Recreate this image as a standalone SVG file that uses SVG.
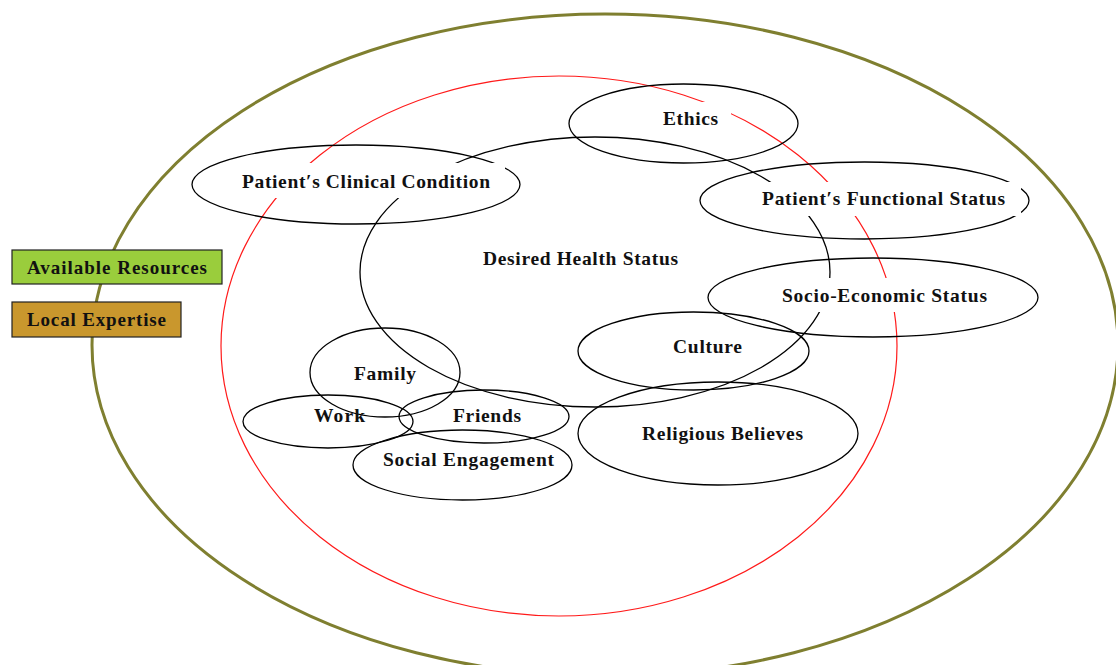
<svg xmlns="http://www.w3.org/2000/svg" width="1116" height="665" viewBox="0 0 1116 665">
<style>
.lbl{font-family:"Liberation Serif","Times New Roman",serif;font-weight:bold;font-size:19.5px;fill:#111}
.box{font-family:"Liberation Serif","Times New Roman",serif;font-weight:bold;font-size:19px;fill:#111}
.el{fill:none;stroke:#000;stroke-width:1.3}
.mask{fill:#fff;stroke:none}
</style>
<rect width="1116" height="665" fill="#fff"/>
<g id="regions">
<ellipse id="outer" cx="605" cy="345" rx="513" ry="331" fill="none" stroke="#7f7f30" stroke-width="3"/>
<ellipse id="red" cx="559" cy="346" rx="338" ry="270" fill="none" stroke="#ff1a1a" stroke-width="1.2"/>
<ellipse id="health" cx="595" cy="272" rx="235" ry="135" class="el"/>
</g>
<g id="clinical">
<ellipse cx="356" cy="184.5" rx="164" ry="39.5" class="el"/>
<rect x="228" y="163" width="277" height="35" class="mask"/>
<text x="242" y="188" class="lbl" textLength="248" lengthAdjust="spacing">Patient′s Clinical Condition</text>
</g>
<g id="ethics">
<ellipse cx="683.5" cy="123.5" rx="114.5" ry="39.5" class="el"/>
<rect x="648" y="102" width="83" height="33" class="mask"/>
<text x="663" y="125" class="lbl" textLength="55" lengthAdjust="spacing">Ethics</text>
</g>
<g id="functional">
<ellipse cx="864.5" cy="200.5" rx="164.5" ry="38.5" class="el"/>
<rect x="742" y="182" width="279" height="34" class="mask"/>
<text x="762" y="205" class="lbl" textLength="243" lengthAdjust="spacing">Patient′s Functional Status</text>
</g>
<g id="socio">
<ellipse cx="873" cy="297.5" rx="165" ry="39.5" class="el"/>
<rect x="762" y="278" width="243" height="34" class="mask"/>
<text x="782" y="302" class="lbl" textLength="205" lengthAdjust="spacing">Socio-Economic Status</text>
</g>
<g id="desired">
<text x="483" y="265" class="lbl" textLength="195" lengthAdjust="spacing">Desired Health Status</text>
</g>
<g id="culture">
<ellipse cx="693.5" cy="351" rx="115.5" ry="39" class="el"/>
<text x="673" y="353" class="lbl" textLength="69" lengthAdjust="spacing">Culture</text>
</g>
<g id="religious">
<ellipse cx="718" cy="433.5" rx="140" ry="51.5" class="el"/>
<text x="642" y="440" class="lbl" textLength="161" lengthAdjust="spacing">Religious Believes</text>
</g>
<g id="family">
<ellipse cx="385" cy="372.5" rx="75" ry="44.5" class="el"/>
<text x="354" y="380" class="lbl" textLength="62" lengthAdjust="spacing">Family</text>
</g>
<g id="work">
<ellipse cx="328" cy="421.5" rx="85" ry="26.5" class="el"/>
<text x="314" y="422" class="lbl" textLength="51" lengthAdjust="spacing">Work</text>
</g>
<g id="friends">
<ellipse cx="484" cy="416.5" rx="85" ry="26.5" class="el"/>
<text x="453" y="422" class="lbl" textLength="68" lengthAdjust="spacing">Friends</text>
</g>
<g id="social">
<ellipse cx="462.5" cy="465" rx="109.5" ry="35" class="el"/>
<text x="383" y="466" class="lbl" textLength="171" lengthAdjust="spacing">Social Engagement</text>
</g>
<g id="resources">
<rect x="12" y="250" width="210" height="34" fill="#9acd3c" stroke="#222" stroke-width="1.2"/>
<text x="27" y="274" class="box" textLength="180" lengthAdjust="spacing">Available Resources</text>
</g>
<g id="expertise">
<rect x="12" y="302" width="169" height="35" fill="#c9972d" stroke="#222" stroke-width="1.2"/>
<text x="27" y="326" class="box" textLength="139" lengthAdjust="spacing">Local Expertise</text>
</g>
</svg>
